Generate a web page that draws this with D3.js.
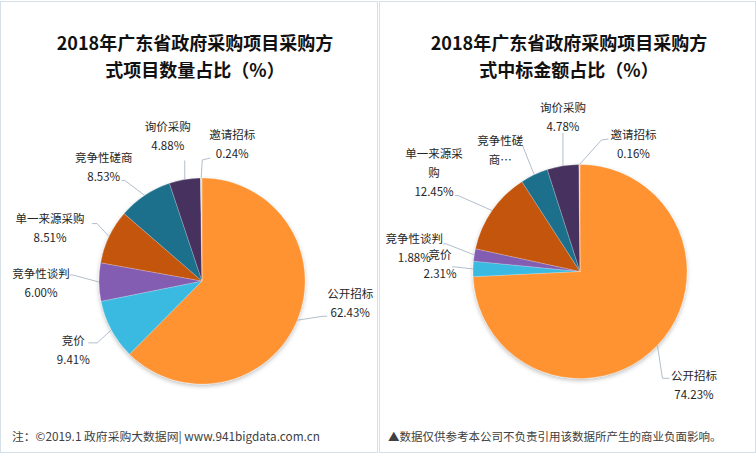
<!DOCTYPE html>
<html><head><meta charset="utf-8">
<script src="https://cdn.jsdelivr.net/npm/d3@7"></script>
<style>
html,body{margin:0;padding:0;background:#fff;}
svg{display:block;}
text{font-family:"Noto Sans CJK SC","Noto Sans",sans-serif;}
</style></head>
<body>
<svg id="chart" width="756" height="456"></svg>
<script>
// ---- data ----
const categories = ["公开招标","竞价","竞争性谈判","单一来源采购","竞争性磋商","询价采购","邀请招标"];
const countShare  = [62.43, 9.41, 6.00, 8.51, 8.53, 4.88, 0.24];
const amountShare = [74.23, 2.31, 1.88, 12.45, 4.19, 4.78, 0.16];
const titles = [
  ["2018年广东省政府采购项目采购方","式项目数量占比（%）"],
  ["2018年广东省政府采购项目采购方","式中标金额占比（%）"]
];
const notes = ["注：©2019.1 政府采购大数据网| www.941bigdata.com.cn",
               "▲数据仅供参考本公司不负责引用该数据所产生的商业负面影响。"];
const colors = ["#F18A2F","#37AED3","#7A57A6","#B8500B","#1D6883","#433059","#C9D3DC"];

// ---- layout (positions relative to each slice's edge point) ----
const layouts = [
  { cx: 202, cy: 281, r: 103, tx: 195,
    labels: [
      {dx: 53, dy: -22, pts: [[26,-4],[30,-4]]},
      {dx: -38, dy: 15, pts: [[-14,13],[-23,13]]},
      {dx: -58, dy: -4, pts: [[-26,-7],[-29,-7]]},
      {dx: -59, dy: -14, pts: [[-12,-13],[-17,-13]]},
      {dx: -41, dy: -33, pts: [[-20,-15],[-23,-15]]},
      {dx: -17, dy: -48, pts: [[0,-19]]},
      {dx: 31, dy: -39, pts: [[1,-18],[9,-20]]}
    ],
    lines: null },
  { cx: 580, cy: 271.5, r: 107, tx: 569,
    labels: [
      {dx: 36.5, dy: 35, pts: [[5,33],[12,33]]},
      {dx: -33, dy: -10, pts: [[-18,-2],[-21,-2]]},
      {dx: -60, dy: -12, pts: [[-28,-11],[-31,-11]]},
      {dx: -58, dy: -53, pts: [[-34,-15],[-37,-15]]},
      {dx: -34, dy: -30, pts: [[-12,-30]]},
      {dx: 0, dy: -54, pts: [[0,-33]]},
      {dx: 54, dy: -25.5, pts: [[22,-24.5],[29,-25.5]]}
    ],
    wrap: {3: ["单一来源采","购",null], 4: ["竞争性磋","商…"]} }
];

const svg = d3.select("#chart");
const defs = svg.append("defs");
const f = defs.append("filter").attr("id","shadow").attr("x","-20%").attr("y","-20%").attr("width","140%").attr("height","140%");
f.append("feDropShadow").attr("dx",0).attr("dy",2).attr("stdDeviation",2.2).attr("flood-color","#000").attr("flood-opacity",0.25);

// panel borders
[[0.5,377],[379.5,376]].forEach(([x,w])=>{
  svg.append("rect").attr("x",x).attr("y",1.5).attr("width",w).attr("height",451)
    .attr("fill","#fff").attr("stroke","#D6E0E8").attr("stroke-width",1);
});

const datasets = [countShare, amountShare];
const pie = d3.pie().sort(null).value(d=>d.v).startAngle(0).endAngle(2*Math.PI);

datasets.forEach((vals, ci) => {
  const L = layouts[ci];
  const g = svg.append("g");
  // title
  titles[ci].forEach((t,i)=>{
    g.append("text").attr("x",L.tx).attr("y",50+i*26.5).attr("text-anchor","middle")
      .attr("font-size",18).attr("font-weight","bold").attr("fill","#111").text(t);
  });
  // gradients
  colors.forEach((c,i)=>{
    const lg = defs.append("linearGradient").attr("id",`g${ci}_${i}`)
      .attr("gradientUnits","userSpaceOnUse")
      .attr("x1",0).attr("y1",L.cy-L.r).attr("x2",0).attr("y2",L.cy+L.r);
    lg.append("stop").attr("offset","0%").attr("stop-color",d3.color(c).brighter(0.18));
    lg.append("stop").attr("offset","100%").attr("stop-color",d3.color(c).darker(0.25));
  });
  const data = categories.map((name,i)=>({name, v: vals[i], i}));
  const arcs = pie(data);
  const arc = d3.arc().innerRadius(0).outerRadius(L.r);
  const edge = d3.arc().innerRadius(L.r).outerRadius(L.r);
  const pg = g.append("g").attr("transform",`translate(${L.cx},${L.cy})`);
  pg.append("g").attr("filter","url(#shadow)").selectAll("path").data(arcs).join("path")
    .attr("d",arc).attr("fill",d=>`url(#g${ci}_${d.data.i})`)
    .attr("stroke","rgba(255,255,255,0.35)").attr("stroke-width",0.6);
  // labels + leaders
  arcs.forEach((d,k)=>{
    const [ex,ey] = edge.centroid(d);
    const lab = L.labels[k];
    const pts = [[ex,ey]].concat(lab.pts.map(p=>[ex+p[0],ey+p[1]]));
    pg.append("path").attr("d",d3.line()(pts)).attr("fill","none")
      .attr("stroke","#A9B7C4").attr("stroke-width",0.9);
    const pct = d.data.v.toFixed(2)+"%";
    let lines = [d.data.name, pct];
    if (L.wrap && L.wrap[k]) lines = L.wrap[k].map(s=> s===null ? pct : s);
    lines.forEach((s,j)=>{
      pg.append("text").attr("x",ex+lab.dx).attr("y",ey+lab.dy+j*19)
        .attr("text-anchor","middle").attr("font-size",11.5).attr("fill","#262626").text(s);
    });
  });
});

// footnotes
svg.append("text").attr("x",12).attr("y",441).attr("font-size",11.8).attr("fill","#404040").text(notes[0]);
svg.append("text").attr("x",388).attr("y",441).attr("font-size",11.5).attr("fill","#404040").text(notes[1]);
</script>
</body></html>
